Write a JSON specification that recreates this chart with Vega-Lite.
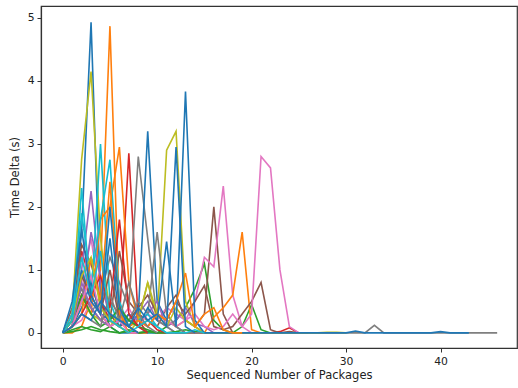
{
"$schema":"https://vega.github.io/schema/vega-lite/v6.json",
"width":476,"height":342,
"autosize":{"type":"none"},
"padding":{"left":41,"top":6,"right":1,"bottom":40},
"config":{"view":{"stroke":"#333","strokeWidth":1.2},
"axis":{"labelFont":"DejaVu Sans","titleFont":"DejaVu Sans","labelFontSize":10.8,"titleFontSize":11.5,"titleFontWeight":"normal","labelColor":"#222","titleColor":"#222","tickColor":"#333","domainColor":"#333","domainWidth":1.2,"grid":false,"tickSize":4,"labelPadding":3}},
"data":{"values":[
{"s":"s01","x":0,"y":0},{"s":"s01","x":1,"y":0.2},{"s":"s01","x":2,"y":1.6},{"s":"s01","x":3,"y":4.93},{"s":"s01","x":4,"y":0.5},{"s":"s01","x":5,"y":0.1},{"s":"s01","x":6,"y":0},{"s":"s01","x":7,"y":0},{"s":"s01","x":8,"y":0},{"s":"s01","x":9,"y":0},
{"s":"s02","x":0,"y":0},{"s":"s02","x":1,"y":0},{"s":"s02","x":2,"y":0.1},{"s":"s02","x":3,"y":0.5},{"s":"s02","x":4,"y":1.0},{"s":"s02","x":5,"y":4.87},{"s":"s02","x":6,"y":0.3},{"s":"s02","x":7,"y":0},{"s":"s02","x":8,"y":0},{"s":"s02","x":9,"y":0},
{"s":"s03","x":0,"y":0},{"s":"s03","x":1,"y":0.05},{"s":"s03","x":2,"y":0.1},{"s":"s03","x":3,"y":0.05},{"s":"s03","x":4,"y":0.02},{"s":"s03","x":5,"y":0.1},{"s":"s03","x":6,"y":0},{"s":"s03","x":7,"y":0.05},{"s":"s03","x":8,"y":0},{"s":"s03","x":9,"y":0.02},{"s":"s03","x":10,"y":0},{"s":"s03","x":11,"y":0.1},{"s":"s03","x":12,"y":0.2},{"s":"s03","x":13,"y":0.4},{"s":"s03","x":14,"y":0.7},{"s":"s03","x":15,"y":1.1},{"s":"s03","x":16,"y":0.2},{"s":"s03","x":17,"y":0.05},{"s":"s03","x":18,"y":0},{"s":"s03","x":19,"y":0.1},{"s":"s03","x":20,"y":0.45},{"s":"s03","x":21,"y":0.05},{"s":"s03","x":22,"y":0},
{"s":"s04","x":0,"y":0},{"s":"s04","x":1,"y":0.1},{"s":"s04","x":2,"y":1.3},{"s":"s04","x":3,"y":0.8},{"s":"s04","x":4,"y":0.3},{"s":"s04","x":5,"y":0.1},{"s":"s04","x":6,"y":0.2},{"s":"s04","x":7,"y":2.85},{"s":"s04","x":8,"y":0.2},{"s":"s04","x":9,"y":0},{"s":"s04","x":10,"y":0},{"s":"s04","x":11,"y":0},
{"s":"s05","x":0,"y":0},{"s":"s05","x":1,"y":0.3},{"s":"s05","x":2,"y":1.0},{"s":"s05","x":3,"y":2.25},{"s":"s05","x":4,"y":0.8},{"s":"s05","x":5,"y":0.3},{"s":"s05","x":6,"y":0.2},{"s":"s05","x":7,"y":0.1},{"s":"s05","x":8,"y":0.3},{"s":"s05","x":9,"y":0.5},{"s":"s05","x":10,"y":0.2},{"s":"s05","x":11,"y":0.1},{"s":"s05","x":12,"y":0},
{"s":"s06","x":0,"y":0},{"s":"s06","x":1,"y":0.4},{"s":"s06","x":2,"y":1.4},{"s":"s06","x":3,"y":1.1},{"s":"s06","x":4,"y":0.5},{"s":"s06","x":5,"y":0.2},{"s":"s06","x":6,"y":1.3},{"s":"s06","x":7,"y":0.5},{"s":"s06","x":8,"y":0.3},{"s":"s06","x":9,"y":0.2},{"s":"s06","x":10,"y":0.1},{"s":"s06","x":11,"y":0.4},{"s":"s06","x":12,"y":0.6},{"s":"s06","x":13,"y":0.2},{"s":"s06","x":14,"y":0.1},{"s":"s06","x":15,"y":0.3},{"s":"s06","x":16,"y":2.0},{"s":"s06","x":17,"y":0.3},{"s":"s06","x":18,"y":0},{"s":"s06","x":19,"y":0},
{"s":"s07","x":0,"y":0},{"s":"s07","x":1,"y":0.2},{"s":"s07","x":2,"y":0.8},{"s":"s07","x":3,"y":1.5},{"s":"s07","x":4,"y":0.5},{"s":"s07","x":5,"y":0.3},{"s":"s07","x":6,"y":0.2},{"s":"s07","x":7,"y":0.4},{"s":"s07","x":8,"y":0.1},{"s":"s07","x":9,"y":0.3},{"s":"s07","x":10,"y":0.2},{"s":"s07","x":11,"y":0.4},{"s":"s07","x":12,"y":0.3},{"s":"s07","x":13,"y":0.2},{"s":"s07","x":14,"y":0.5},{"s":"s07","x":15,"y":1.2},{"s":"s07","x":16,"y":1.05},{"s":"s07","x":17,"y":2.33},{"s":"s07","x":18,"y":0.6},{"s":"s07","x":19,"y":0.1},{"s":"s07","x":20,"y":0},
{"s":"s08","x":0,"y":0},{"s":"s08","x":1,"y":0.2},{"s":"s08","x":2,"y":0.5},{"s":"s08","x":3,"y":0.3},{"s":"s08","x":4,"y":0.6},{"s":"s08","x":5,"y":1.2},{"s":"s08","x":6,"y":0.8},{"s":"s08","x":7,"y":0.4},{"s":"s08","x":8,"y":2.8},{"s":"s08","x":9,"y":1.5},{"s":"s08","x":10,"y":0.2},{"s":"s08","x":11,"y":0.1},{"s":"s08","x":12,"y":0},{"s":"s08","x":13,"y":0},
{"s":"s09","x":0,"y":0},{"s":"s09","x":1,"y":0.3},{"s":"s09","x":2,"y":2.75},{"s":"s09","x":3,"y":4.15},{"s":"s09","x":4,"y":1.5},{"s":"s09","x":5,"y":0.3},{"s":"s09","x":6,"y":0.1},{"s":"s09","x":7,"y":0},{"s":"s09","x":8,"y":0.2},{"s":"s09","x":9,"y":0.8},{"s":"s09","x":10,"y":0.2},{"s":"s09","x":11,"y":2.9},{"s":"s09","x":12,"y":3.2},{"s":"s09","x":13,"y":0.5},{"s":"s09","x":14,"y":0.1},{"s":"s09","x":15,"y":0},
{"s":"s10","x":0,"y":0},{"s":"s10","x":1,"y":0.1},{"s":"s10","x":2,"y":2.3},{"s":"s10","x":3,"y":0.5},{"s":"s10","x":4,"y":3.0},{"s":"s10","x":5,"y":0.5},{"s":"s10","x":6,"y":0.1},{"s":"s10","x":7,"y":0.2},{"s":"s10","x":8,"y":0.1},{"s":"s10","x":9,"y":0},{"s":"s10","x":10,"y":0},
{"s":"s11","x":0,"y":0},{"s":"s11","x":1,"y":0.1},{"s":"s11","x":2,"y":0.4},{"s":"s11","x":3,"y":0.8},{"s":"s11","x":4,"y":0.3},{"s":"s11","x":5,"y":1.5},{"s":"s11","x":6,"y":0.2},{"s":"s11","x":7,"y":0.1},{"s":"s11","x":8,"y":0.3},{"s":"s11","x":9,"y":3.2},{"s":"s11","x":10,"y":0.5},{"s":"s11","x":11,"y":0.2},{"s":"s11","x":12,"y":0.1},{"s":"s11","x":13,"y":0},
{"s":"s12","x":0,"y":0},{"s":"s12","x":1,"y":0.2},{"s":"s12","x":2,"y":0.6},{"s":"s12","x":3,"y":0.3},{"s":"s12","x":4,"y":1.8},{"s":"s12","x":5,"y":2.0},{"s":"s12","x":6,"y":2.95},{"s":"s12","x":7,"y":0.8},{"s":"s12","x":8,"y":0.2},{"s":"s12","x":9,"y":0.1},{"s":"s12","x":10,"y":0.3},{"s":"s12","x":11,"y":0.2},{"s":"s12","x":12,"y":0.1},{"s":"s12","x":13,"y":0.2},{"s":"s12","x":14,"y":0.1},{"s":"s12","x":15,"y":0},{"s":"s12","x":16,"y":0.25},{"s":"s12","x":17,"y":0.4},{"s":"s12","x":18,"y":0.6},{"s":"s12","x":19,"y":1.6},{"s":"s12","x":20,"y":0.05},{"s":"s12","x":21,"y":0},
{"s":"s13","x":0,"y":0},{"s":"s13","x":1,"y":0.02},{"s":"s13","x":2,"y":0.05},{"s":"s13","x":3,"y":0.1},{"s":"s13","x":4,"y":0.05},{"s":"s13","x":5,"y":0.02},{"s":"s13","x":6,"y":0},{"s":"s13","x":7,"y":0.03},{"s":"s13","x":8,"y":0},{"s":"s13","x":9,"y":0.02},{"s":"s13","x":10,"y":0},{"s":"s13","x":11,"y":0},{"s":"s13","x":12,"y":0.02},{"s":"s13","x":13,"y":0.05},{"s":"s13","x":14,"y":0.02},{"s":"s13","x":15,"y":0},
{"s":"s14","x":0,"y":0},{"s":"s14","x":1,"y":0.1},{"s":"s14","x":2,"y":0.5},{"s":"s14","x":3,"y":1.2},{"s":"s14","x":4,"y":0.5},{"s":"s14","x":5,"y":0.2},{"s":"s14","x":6,"y":0.1},{"s":"s14","x":7,"y":0.3},{"s":"s14","x":8,"y":0.1},{"s":"s14","x":9,"y":0.2},{"s":"s14","x":10,"y":0.05},{"s":"s14","x":11,"y":0},{"s":"s14","x":12,"y":0},{"s":"s14","x":13,"y":0},{"s":"s14","x":14,"y":0},{"s":"s14","x":15,"y":0},{"s":"s14","x":16,"y":0},{"s":"s14","x":17,"y":0},{"s":"s14","x":18,"y":0},{"s":"s14","x":19,"y":0},{"s":"s14","x":20,"y":0},{"s":"s14","x":21,"y":0},{"s":"s14","x":22,"y":0},{"s":"s14","x":23,"y":0.02},{"s":"s14","x":24,"y":0.08},{"s":"s14","x":25,"y":0},{"s":"s14","x":26,"y":0},
{"s":"s15","x":0,"y":0},{"s":"s15","x":1,"y":0.2},{"s":"s15","x":2,"y":0.5},{"s":"s15","x":3,"y":1.6},{"s":"s15","x":4,"y":0.9},{"s":"s15","x":5,"y":0.2},{"s":"s15","x":6,"y":0.1},{"s":"s15","x":7,"y":0.3},{"s":"s15","x":8,"y":0.2},{"s":"s15","x":9,"y":0.3},{"s":"s15","x":10,"y":0.5},{"s":"s15","x":11,"y":0.1},{"s":"s15","x":12,"y":0.2},{"s":"s15","x":13,"y":0.4},{"s":"s15","x":14,"y":0.15},{"s":"s15","x":15,"y":0.1},{"s":"s15","x":16,"y":0},
{"s":"s16","x":0,"y":0},{"s":"s16","x":1,"y":0.1},{"s":"s16","x":2,"y":0.6},{"s":"s16","x":3,"y":0.4},{"s":"s16","x":4,"y":0.2},{"s":"s16","x":5,"y":0.3},{"s":"s16","x":6,"y":0.1},{"s":"s16","x":7,"y":0.2},{"s":"s16","x":8,"y":0.4},{"s":"s16","x":9,"y":0.6},{"s":"s16","x":10,"y":0.3},{"s":"s16","x":11,"y":0.2},{"s":"s16","x":12,"y":0.5},{"s":"s16","x":13,"y":0.3},{"s":"s16","x":14,"y":0.5},{"s":"s16","x":15,"y":0.75},{"s":"s16","x":16,"y":0.1},{"s":"s16","x":17,"y":0.05},{"s":"s16","x":18,"y":0.1},{"s":"s16","x":19,"y":0.3},{"s":"s16","x":20,"y":0.5},{"s":"s16","x":21,"y":0.8},{"s":"s16","x":22,"y":0.05},{"s":"s16","x":23,"y":0},{"s":"s16","x":24,"y":0.02},{"s":"s16","x":25,"y":0},
{"s":"s17","x":0,"y":0},{"s":"s17","x":1,"y":0.1},{"s":"s17","x":2,"y":0.2},{"s":"s17","x":3,"y":0.5},{"s":"s17","x":4,"y":0.3},{"s":"s17","x":5,"y":0.1},{"s":"s17","x":6,"y":0.2},{"s":"s17","x":7,"y":0.1},{"s":"s17","x":8,"y":0.2},{"s":"s17","x":9,"y":0.1},{"s":"s17","x":10,"y":0.3},{"s":"s17","x":11,"y":0.2},{"s":"s17","x":12,"y":0.1},{"s":"s17","x":13,"y":0.2},{"s":"s17","x":14,"y":0.3},{"s":"s17","x":15,"y":0.1},{"s":"s17","x":16,"y":0.05},{"s":"s17","x":17,"y":0.1},{"s":"s17","x":18,"y":0.3},{"s":"s17","x":19,"y":0.1},{"s":"s17","x":20,"y":0.3},{"s":"s17","x":21,"y":2.8},{"s":"s17","x":22,"y":2.62},{"s":"s17","x":23,"y":1.0},{"s":"s17","x":24,"y":0.1},{"s":"s17","x":25,"y":0},
{"s":"s18","x":0,"y":0},{"s":"s18","x":1,"y":0.3},{"s":"s18","x":2,"y":0.7},{"s":"s18","x":3,"y":0.4},{"s":"s18","x":4,"y":0.2},{"s":"s18","x":5,"y":0.5},{"s":"s18","x":6,"y":0.3},{"s":"s18","x":7,"y":0.2},{"s":"s18","x":8,"y":0.5},{"s":"s18","x":9,"y":0.3},{"s":"s18","x":10,"y":1.6},{"s":"s18","x":11,"y":0.3},{"s":"s18","x":12,"y":0.1},{"s":"s18","x":13,"y":0},{"s":"s18","x":14,"y":0},{"s":"s18","x":15,"y":0},{"s":"s18","x":16,"y":0},{"s":"s18","x":17,"y":0},{"s":"s18","x":18,"y":0},{"s":"s18","x":19,"y":0},{"s":"s18","x":20,"y":0},{"s":"s18","x":21,"y":0},{"s":"s18","x":22,"y":0},{"s":"s18","x":23,"y":0},{"s":"s18","x":24,"y":0},{"s":"s18","x":25,"y":0},{"s":"s18","x":26,"y":0},{"s":"s18","x":27,"y":0},{"s":"s18","x":28,"y":0},{"s":"s18","x":29,"y":0},{"s":"s18","x":30,"y":0},{"s":"s18","x":31,"y":0},{"s":"s18","x":32,"y":0},{"s":"s18","x":33,"y":0.12},{"s":"s18","x":34,"y":0},{"s":"s18","x":35,"y":0},{"s":"s18","x":36,"y":0},{"s":"s18","x":37,"y":0},{"s":"s18","x":38,"y":0},{"s":"s18","x":39,"y":0},{"s":"s18","x":40,"y":0},{"s":"s18","x":41,"y":0},{"s":"s18","x":42,"y":0},{"s":"s18","x":43,"y":0},{"s":"s18","x":44,"y":0},{"s":"s18","x":45,"y":0},{"s":"s18","x":46,"y":0},
{"s":"s19","x":0,"y":0},{"s":"s19","x":1,"y":0.1},{"s":"s19","x":2,"y":0.5},{"s":"s19","x":3,"y":0.3},{"s":"s19","x":4,"y":0.2},{"s":"s19","x":5,"y":0.1},{"s":"s19","x":6,"y":0.3},{"s":"s19","x":7,"y":0.1},{"s":"s19","x":8,"y":0.2},{"s":"s19","x":9,"y":0.8},{"s":"s19","x":10,"y":0.3},{"s":"s19","x":11,"y":0.1},{"s":"s19","x":12,"y":0.4},{"s":"s19","x":13,"y":0.2},{"s":"s19","x":14,"y":0.1},{"s":"s19","x":15,"y":0},{"s":"s19","x":16,"y":0},{"s":"s19","x":17,"y":0},{"s":"s19","x":18,"y":0},{"s":"s19","x":19,"y":0},{"s":"s19","x":20,"y":0},{"s":"s19","x":21,"y":0},{"s":"s19","x":22,"y":0},{"s":"s19","x":23,"y":0},{"s":"s19","x":24,"y":0},{"s":"s19","x":25,"y":0},{"s":"s19","x":26,"y":0},{"s":"s19","x":27,"y":0},{"s":"s19","x":28,"y":0.01},{"s":"s19","x":29,"y":0.01},{"s":"s19","x":30,"y":0},
{"s":"s20","x":0,"y":0},{"s":"s20","x":1,"y":0.3},{"s":"s20","x":2,"y":1.9},{"s":"s20","x":3,"y":0.8},{"s":"s20","x":4,"y":1.8},{"s":"s20","x":5,"y":2.75},{"s":"s20","x":6,"y":0.5},{"s":"s20","x":7,"y":0.1},{"s":"s20","x":8,"y":0.2},{"s":"s20","x":9,"y":0.3},{"s":"s20","x":10,"y":0.1},{"s":"s20","x":11,"y":0},
{"s":"s21","x":0,"y":0},{"s":"s21","x":1,"y":0.2},{"s":"s21","x":2,"y":1.0},{"s":"s21","x":3,"y":0.5},{"s":"s21","x":4,"y":0.3},{"s":"s21","x":5,"y":0.2},{"s":"s21","x":6,"y":0.1},{"s":"s21","x":7,"y":0.3},{"s":"s21","x":8,"y":0.1},{"s":"s21","x":9,"y":0.4},{"s":"s21","x":10,"y":0.2},{"s":"s21","x":11,"y":1.45},{"s":"s21","x":12,"y":0.1},{"s":"s21","x":13,"y":3.83},{"s":"s21","x":14,"y":0.2},{"s":"s21","x":15,"y":0},{"s":"s21","x":16,"y":0},{"s":"s21","x":17,"y":0},{"s":"s21","x":18,"y":0},{"s":"s21","x":19,"y":0},{"s":"s21","x":20,"y":0},{"s":"s21","x":21,"y":0},{"s":"s21","x":22,"y":0},{"s":"s21","x":23,"y":0},{"s":"s21","x":24,"y":0},{"s":"s21","x":25,"y":0},{"s":"s21","x":26,"y":0},{"s":"s21","x":27,"y":0},{"s":"s21","x":28,"y":0},{"s":"s21","x":29,"y":0},{"s":"s21","x":30,"y":0},{"s":"s21","x":31,"y":0.03},{"s":"s21","x":32,"y":0},{"s":"s21","x":33,"y":0},{"s":"s21","x":34,"y":0},{"s":"s21","x":35,"y":0},{"s":"s21","x":36,"y":0},{"s":"s21","x":37,"y":0},{"s":"s21","x":38,"y":0},{"s":"s21","x":39,"y":0},{"s":"s21","x":40,"y":0.02},{"s":"s21","x":41,"y":0},{"s":"s21","x":42,"y":0},{"s":"s21","x":43,"y":0},
{"s":"s22","x":0,"y":0},{"s":"s22","x":1,"y":0.1},{"s":"s22","x":2,"y":0.3},{"s":"s22","x":3,"y":1.2},{"s":"s22","x":4,"y":0.5},{"s":"s22","x":5,"y":2.4},{"s":"s22","x":6,"y":0.3},{"s":"s22","x":7,"y":0.1},{"s":"s22","x":8,"y":0.2},{"s":"s22","x":9,"y":0.1},{"s":"s22","x":10,"y":0.3},{"s":"s22","x":11,"y":0.2},{"s":"s22","x":12,"y":0.5},{"s":"s22","x":13,"y":0.95},{"s":"s22","x":14,"y":0.1},{"s":"s22","x":15,"y":0.3},{"s":"s22","x":16,"y":0.4},{"s":"s22","x":17,"y":0.05},{"s":"s22","x":18,"y":0},{"s":"s22","x":19,"y":0},
{"s":"s23","x":0,"y":0},{"s":"s23","x":1,"y":0.2},{"s":"s23","x":2,"y":0.6},{"s":"s23","x":3,"y":0.3},{"s":"s23","x":4,"y":0.1},{"s":"s23","x":5,"y":0.2},{"s":"s23","x":6,"y":0.4},{"s":"s23","x":7,"y":0.2},{"s":"s23","x":8,"y":0.1},{"s":"s23","x":9,"y":0.05},{"s":"s23","x":10,"y":0},
{"s":"s24","x":0,"y":0},{"s":"s24","x":1,"y":0.1},{"s":"s24","x":2,"y":0.3},{"s":"s24","x":3,"y":0.6},{"s":"s24","x":4,"y":0.9},{"s":"s24","x":5,"y":0.4},{"s":"s24","x":6,"y":1.8},{"s":"s24","x":7,"y":0.3},{"s":"s24","x":8,"y":0.1},{"s":"s24","x":9,"y":0},
{"s":"s25","x":0,"y":0},{"s":"s25","x":1,"y":0.1},{"s":"s25","x":2,"y":0.8},{"s":"s25","x":3,"y":0.4},{"s":"s25","x":4,"y":0.2},{"s":"s25","x":5,"y":0.1},{"s":"s25","x":6,"y":0.2},{"s":"s25","x":7,"y":0.1},{"s":"s25","x":8,"y":0},
{"s":"s26","x":0,"y":0},{"s":"s26","x":1,"y":0.2},{"s":"s26","x":2,"y":0.9},{"s":"s26","x":3,"y":0.6},{"s":"s26","x":4,"y":0.3},{"s":"s26","x":5,"y":1.0},{"s":"s26","x":6,"y":0.2},{"s":"s26","x":7,"y":0.1},{"s":"s26","x":8,"y":0},
{"s":"s27","x":0,"y":0},{"s":"s27","x":1,"y":0.1},{"s":"s27","x":2,"y":0.5},{"s":"s27","x":3,"y":0.9},{"s":"s27","x":4,"y":0.3},{"s":"s27","x":5,"y":0.1},{"s":"s27","x":6,"y":0.2},{"s":"s27","x":7,"y":0},{"s":"s27","x":8,"y":0},
{"s":"s28","x":0,"y":0},{"s":"s28","x":1,"y":0.1},{"s":"s28","x":2,"y":0.3},{"s":"s28","x":3,"y":0.2},{"s":"s28","x":4,"y":0.1},{"s":"s28","x":5,"y":0.6},{"s":"s28","x":6,"y":0.2},{"s":"s28","x":7,"y":0.8},{"s":"s28","x":8,"y":0.3},{"s":"s28","x":9,"y":0.1},{"s":"s28","x":10,"y":0},
{"s":"s29","x":0,"y":0},{"s":"s29","x":1,"y":0.2},{"s":"s29","x":2,"y":0.9},{"s":"s29","x":3,"y":1.2},{"s":"s29","x":4,"y":0.4},{"s":"s29","x":5,"y":0.2},{"s":"s29","x":6,"y":0.1},{"s":"s29","x":7,"y":0},
{"s":"s30","x":0,"y":0},{"s":"s30","x":1,"y":0.2},{"s":"s30","x":2,"y":1.2},{"s":"s30","x":3,"y":0.6},{"s":"s30","x":4,"y":1.3},{"s":"s30","x":5,"y":0.2},{"s":"s30","x":6,"y":0.1},{"s":"s30","x":7,"y":0},{"s":"s30","x":8,"y":0.1},{"s":"s30","x":9,"y":0.2},{"s":"s30","x":10,"y":0.1},{"s":"s30","x":11,"y":0},{"s":"s30","x":12,"y":0},{"s":"s30","x":13,"y":0},{"s":"s30","x":14,"y":0.05},{"s":"s30","x":15,"y":0},
{"s":"s31","x":0,"y":0},{"s":"s31","x":1,"y":0.5},{"s":"s31","x":2,"y":1.65},{"s":"s31","x":3,"y":0.6},{"s":"s31","x":4,"y":0.3},{"s":"s31","x":5,"y":2.0},{"s":"s31","x":6,"y":0.4},{"s":"s31","x":7,"y":0.1},{"s":"s31","x":8,"y":0},
{"s":"s32","x":0,"y":0},{"s":"s32","x":1,"y":0.1},{"s":"s32","x":2,"y":0.3},{"s":"s32","x":3,"y":0.2},{"s":"s32","x":4,"y":0.5},{"s":"s32","x":5,"y":0.3},{"s":"s32","x":6,"y":0.2},{"s":"s32","x":7,"y":0.1},{"s":"s32","x":8,"y":0.4},{"s":"s32","x":9,"y":0.2},{"s":"s32","x":10,"y":0.3},{"s":"s32","x":11,"y":0.1},{"s":"s32","x":12,"y":2.95},{"s":"s32","x":13,"y":0.1},{"s":"s32","x":14,"y":0}
]},
"mark":{"type":"line","strokeWidth":1.6,"clip":true},
"encoding":{
"x":{"field":"x","type":"quantitative","scale":{"domain":[-2.3,48.1],"nice":false,"zero":false},"axis":{"values":[0,10,20,30,40],"title":"Sequenced Number of Packages","titlePadding":4}},
"y":{"field":"y","type":"quantitative","scale":{"domain":[-0.24,5.19],"nice":false,"zero":false},"axis":{"values":[0,1,2,3,4,5],"title":"Time Delta (s)","titlePadding":7}},
"color":{"field":"s","type":"nominal","legend":null,"scale":{"domain":["s01","s02","s03","s04","s05","s06","s07","s08","s09","s10","s11","s12","s13","s14","s15","s16","s17","s18","s19","s20","s21","s22","s23","s24","s25","s26","s27","s28","s29","s30","s31","s32"],"range":["#1f77b4","#ff7f0e","#2ca02c","#d62728","#9467bd","#8c564b","#e377c2","#7f7f7f","#bcbd22","#17becf","#1f77b4","#ff7f0e","#2ca02c","#d62728","#9467bd","#8c564b","#e377c2","#7f7f7f","#bcbd22","#17becf","#1f77b4","#ff7f0e","#2ca02c","#d62728","#9467bd","#8c564b","#e377c2","#7f7f7f","#bcbd22","#17becf","#1f77b4","#1f77b4"]}},
"order":{"field":"x","type":"quantitative"}
}
}
